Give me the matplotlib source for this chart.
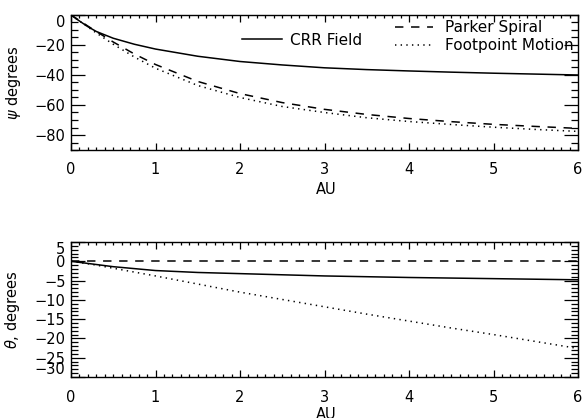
import numpy as np
import matplotlib
matplotlib.use("Agg")
import matplotlib.pyplot as plt
from matplotlib.ticker import MultipleLocator

# distance from the sun, AU
au = [0, 0.1, 0.2, 0.3, 0.5, 0.75, 1, 1.5, 2, 2.5, 3, 3.5, 4, 4.5, 5, 5.5, 6]

# psi (degrees)
psi_crr = [0, -4.0, -7.8, -11.0, -15.5, -19.5, -22.7, -27.5, -31.0, -33.3,
           -35.2, -36.4, -37.3, -38.1, -38.8, -39.4, -40.0]
psi_parker = [0, -3.7, -7.4, -11.0, -18.0, -26.0, -33.0, -44.3, -52.4, -58.4,
              -62.9, -66.3, -69.0, -71.1, -72.9, -74.3, -75.6]
psi_foot = [0, -4.0, -8.0, -12.0, -19.5, -28.0, -35.5, -47.0, -55.0, -61.0,
            -65.0, -68.5, -71.0, -73.0, -74.8, -76.3, -77.6]

# theta_r (degrees)
au_b = [0, 0.25, 0.5, 1, 1.5, 2, 2.5, 3, 3.5, 4, 4.5, 5, 5.5, 6]
theta_crr = [0, -0.7, -1.4, -2.4, -2.9, -3.2, -3.5, -3.8, -4.0, -4.2, -4.35,
             -4.5, -4.65, -4.8]
theta_parker = [0] * len(au_b)
theta_foot = [0, -0.8, -1.8, -3.8, -5.9, -8.0, -9.9, -11.8, -13.7, -15.5,
              -17.3, -19.0, -20.8, -22.6]

plt.rcParams['font.family'] = ['DejaVu Sans']
plt.rcParams['font.size'] = 10.5

fig = plt.figure(figsize=(5.87, 4.18), dpi=100)
ax1 = fig.add_axes([71 / 587, 1 - 150 / 418, 507 / 587, 135 / 418])
ax2 = fig.add_axes([71 / 587, 1 - 377 / 418, 507 / 587, 135 / 418])

lw = 1.1
dash = (5.5, 5.0)
dot = (0.9, 2.8)


def style(ax):
    ax.set_xlim(0, 6)
    ax.xaxis.set_major_locator(MultipleLocator(1))
    ax.xaxis.set_minor_locator(MultipleLocator(0.1))
    ax.tick_params(which='both', direction='in', top=True, right=True,
                   width=0.9, colors='black')
    ax.tick_params(axis='x', which='major', length=5, pad=9)
    ax.tick_params(axis='x', which='minor', length=2.5)
    ax.tick_params(axis='y', which='major', length=10, pad=4)
    ax.tick_params(axis='y', which='minor', length=5)
    for s in ax.spines.values():
        s.set_linewidth(1.0)


# top panel
l1, = ax1.plot(au, psi_crr, color='black', lw=lw, label='CRR Field')
l2, = ax1.plot(au, psi_parker, color='black', lw=lw, dashes=dash,
               label='Parker Spiral')
l3, = ax1.plot(au, psi_foot, color='black', lw=lw, dashes=dot,
               label='Footpoint Motion')
style(ax1)
ax1.set_ylim(-90, 0)
ax1.yaxis.set_major_locator(MultipleLocator(20))
ax1.yaxis.set_minor_locator(MultipleLocator(5))
ax1.set_xlabel('AU')
ax1.set_ylabel(r'$\psi$ degrees')
ax1.xaxis.set_label_coords(0.503, -0.237)
ax1.yaxis.set_label_coords(-0.095, 0.5)

leg1 = ax1.legend(handles=[l1], loc='upper left', bbox_to_anchor=(0.337, 0.868),
                  frameon=False, borderpad=0, borderaxespad=0, fontsize=11,
                  handlelength=2.6, handletextpad=0.55)
ax1.add_artist(leg1)
ax1.legend(handles=[l2, l3], loc='upper left', bbox_to_anchor=(0.639, 0.96),
           frameon=False, borderpad=0, borderaxespad=0, labelspacing=0.2,
           fontsize=11, handlelength=2.5, handletextpad=0.75)

# bottom panel
ax2.plot(au_b, theta_crr, color='black', lw=lw)
ax2.plot(au_b, theta_parker, color='black', lw=lw, dashes=dash)
ax2.plot(au_b, theta_foot, color='black', lw=lw, dashes=dot)
style(ax2)
ax2.set_ylim(-30, 5)
ax2.yaxis.set_major_locator(MultipleLocator(5))
ax2.yaxis.set_minor_locator(MultipleLocator(1))
ax2.set_xlabel('AU')
ax2.set_ylabel(r'$\theta$, degrees')
ax2.xaxis.set_label_coords(0.503, -0.222)
ax2.yaxis.set_label_coords(-0.097, 0.5)

fig.canvas.draw()
# keep the edge labels inside the axis range
for lab in ax1.get_yticklabels():
    if lab.get_position()[1] == 0:
        lab.set_va('top')
for lab in ax2.get_yticklabels():
    y = lab.get_position()[1]
    if y == 5:
        lab.set_va('top')
    elif y == -30:
        lab.set_va('bottom')

fig.savefig('out.png', dpi=100)
